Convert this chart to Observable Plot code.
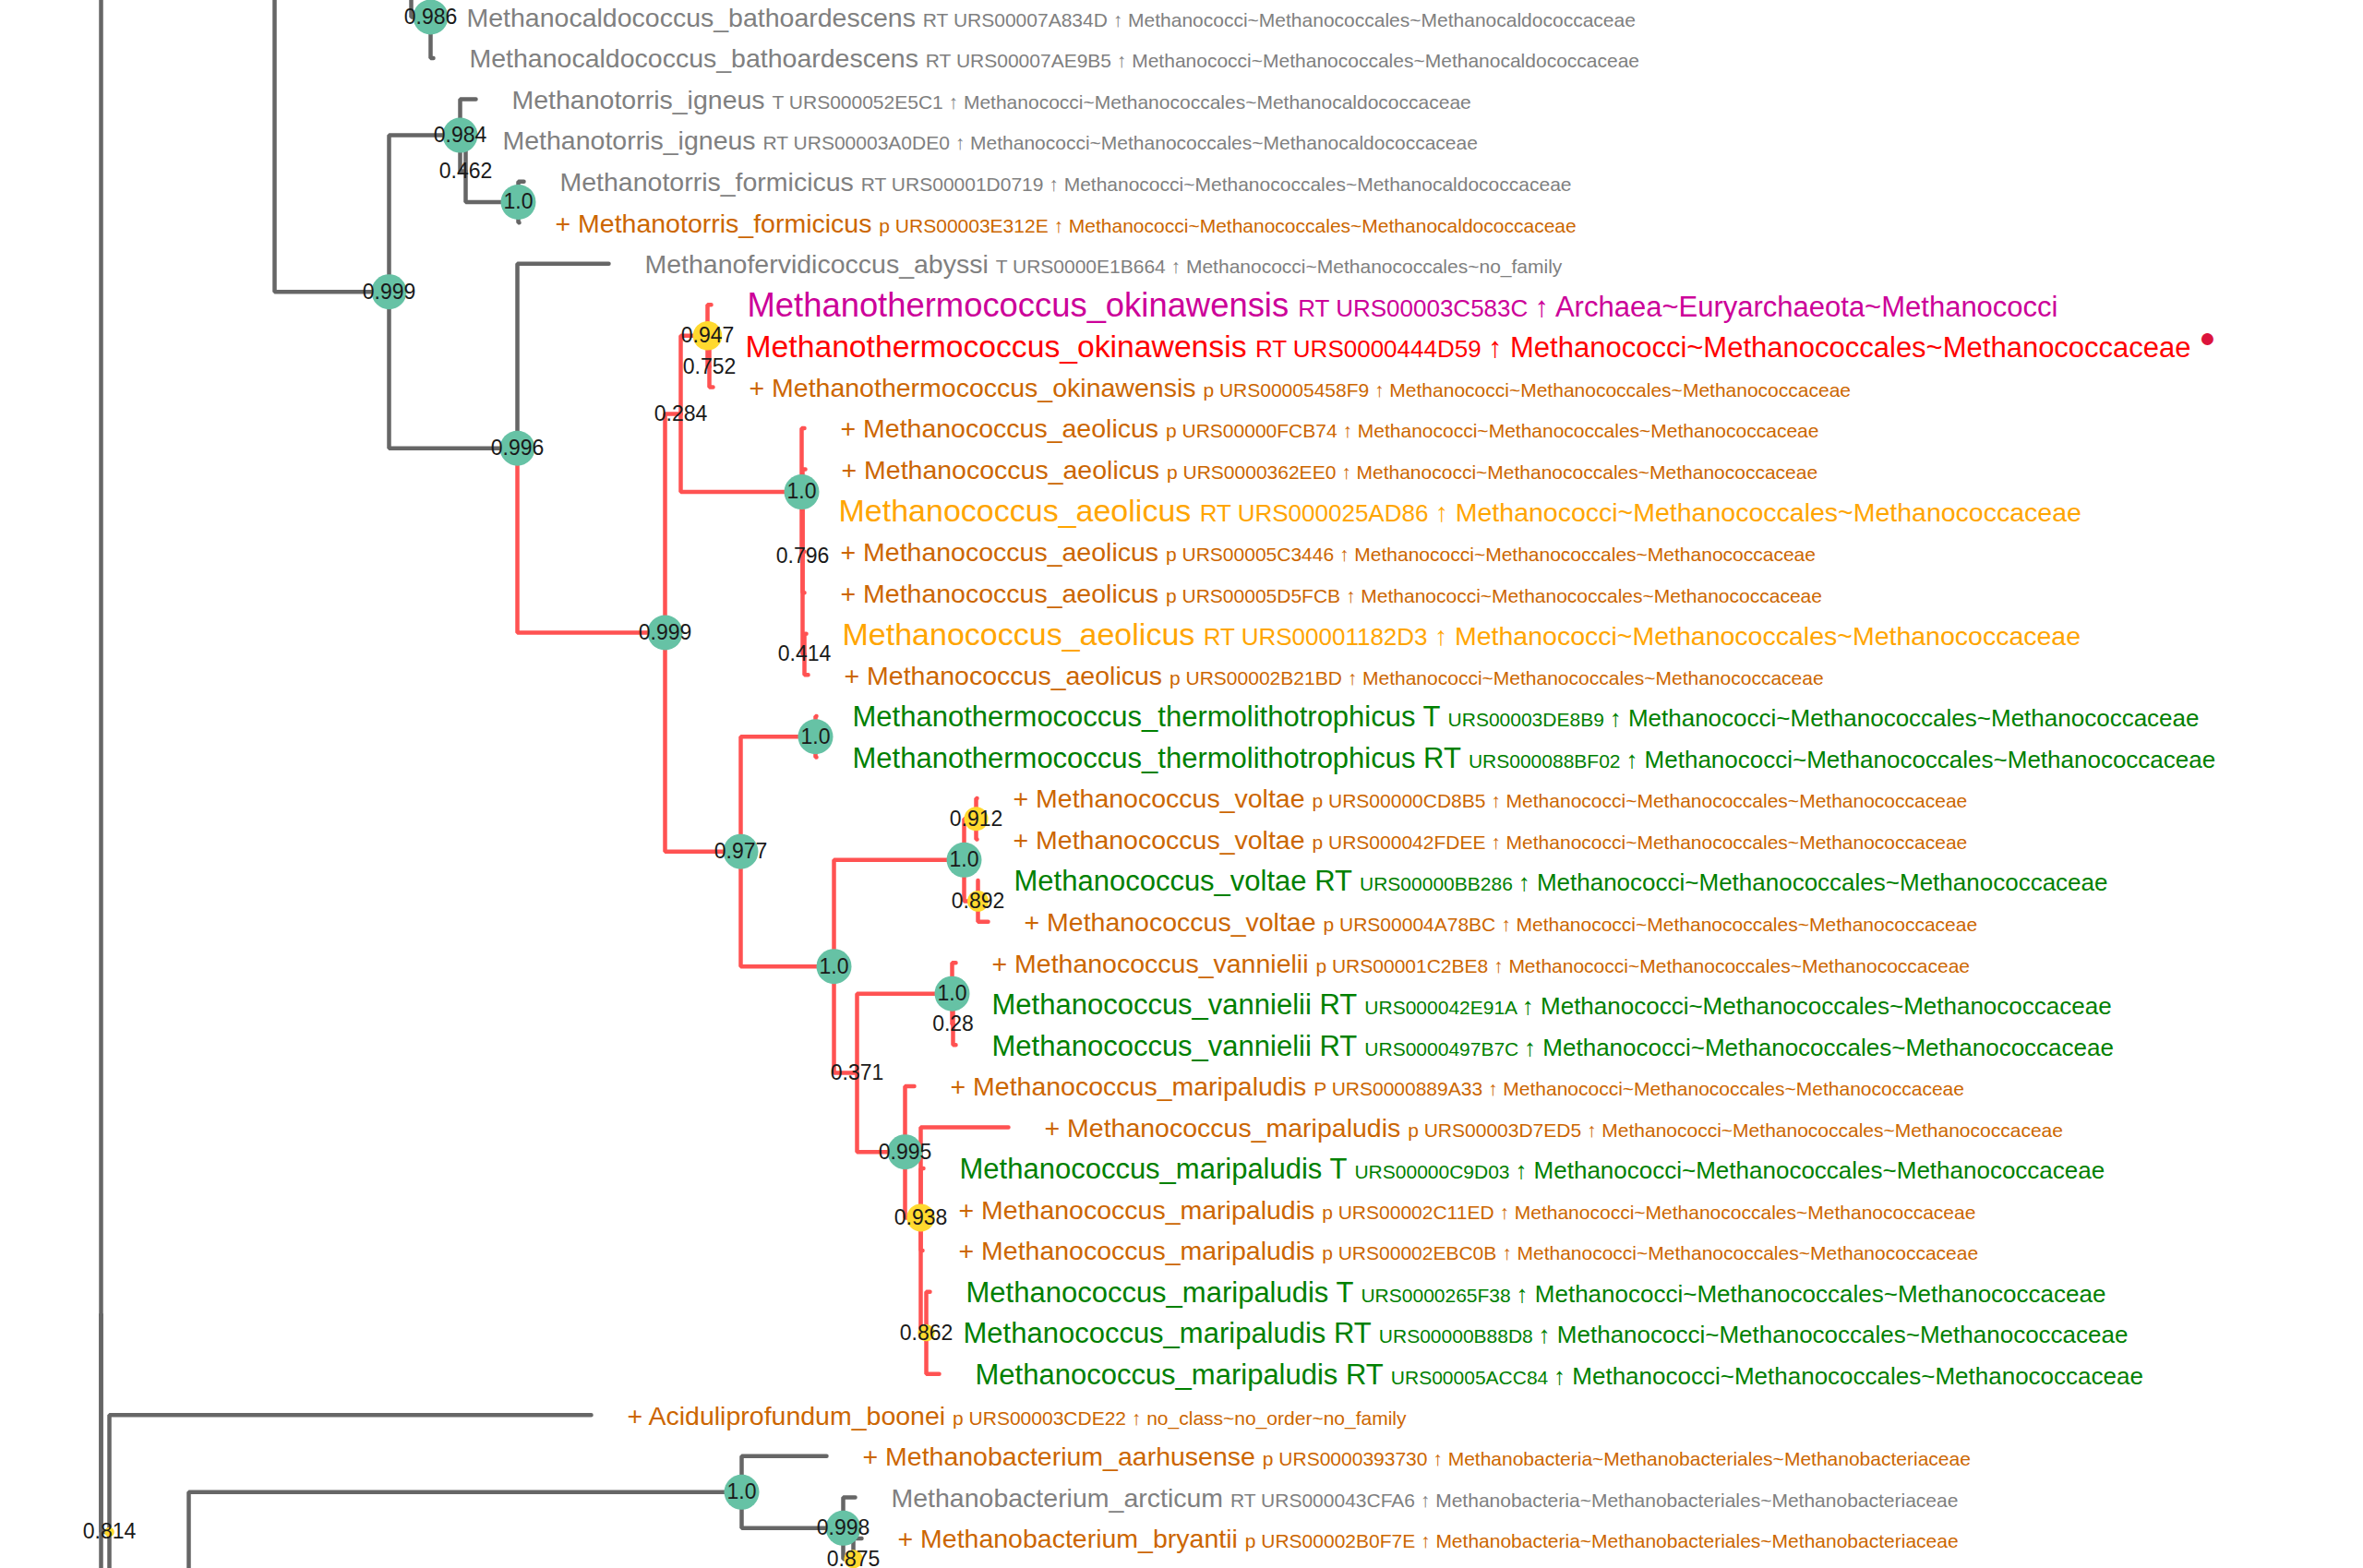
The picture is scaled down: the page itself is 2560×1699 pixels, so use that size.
<!DOCTYPE html>
<html>
<head>
<meta charset="utf-8">
<script src="https://cdn.jsdelivr.net/npm/d3@7"></script>
<script src="https://cdn.jsdelivr.net/npm/@observablehq/plot@0.6"></script>
<style>
  html, body { margin: 0; padding: 0; background: #fff; }
  svg { display: block; }
</style>
</head>
<body>
<div id="chart"></div>
<script>
// ---------------- DATA ----------------
// Internal nodes: id, parent, cumulative depth from root, support (null = not shown)
const nodeIds      = ["root","P","Q","Y","N986","A","N984","N462","N10a","N996","B","N284","N947","N752","N10b","N796","N414","N977","N10c","N10d","N10e","N912","N892","N371","N10f","N28","N995","N938","N862","N814","NB2","N10g","N998","N875"];
const nodeParents  = [null,"root","P","Q","Y","P","A","N984","N462","A","N996","B","N284","N947","N284","N10b","N796","B","N977","N977","N10d","N10e","N10e","N10d","N371","N10f","N371","N995","N938","root","N814","NB2","N10g","N998"];
const nodeDepths   = [0,0.188,0.271,0.336,0.357,0.312,0.389,0.395,0.452,0.451,0.611,0.628,0.657,0.659,0.759,0.760,0.762,0.693,0.774,0.794,0.935,0.948,0.950,0.819,0.922,0.923,0.871,0.888,0.894,0.009,0.095,0.694,0.804,0.815];
const nodeSupports = [null,null,null,null,0.986,0.999,0.984,0.462,1.0,0.996,0.999,0.284,0.947,0.752,1.0,0.796,0.414,0.977,1.0,1.0,1.0,0.912,0.892,0.371,1.0,0.28,0.995,0.938,0.862,0.814,null,1.0,0.998,0.875];

// Highlighted clade (branches drawn in red)
const highlightClade = "B";

// Leaves (visible rows 0..37)
const leafRows    = [0,1,2,3,4,5,6,7,8,9,10,11,12,13,14,15,16,17,18,19,20,21,22,23,24,25,26,27,28,29,30,31,32,33,34,35,36,37];
const leafParents = ["N986","N986","N984","N462","N10a","N10a","N996","N947","N752","N752","N10b","N796","N796","N796","N796","N414","N414","N10c","N10c","N912","N912","N892","N892","N10f","N28","N28","N995","N938","N938","N938","N938","N862","N862","N862","N814","N10g","N998","N875"];
const leafDepths  = [0.357,0.360,0.406,0.396,0.458,0.453,0.550,0.661,0.659,0.663,0.762,0.763,0.760,0.762,0.762,0.764,0.766,0.775,0.775,0.949,0.949,0.950,0.961,0.926,0.926,0.926,0.881,0.983,0.891,0.890,0.890,0.898,0.895,0.908,0.531,0.786,0.817,0.824];
const leafNames = [
  "Methanocaldococcus_bathoardescens","Methanocaldococcus_bathoardescens",
  "Methanotorris_igneus","Methanotorris_igneus",
  "Methanotorris_formicicus","Methanotorris_formicicus",
  "Methanofervidicoccus_abyssi",
  "Methanothermococcus_okinawensis","Methanothermococcus_okinawensis","Methanothermococcus_okinawensis",
  "Methanococcus_aeolicus","Methanococcus_aeolicus","Methanococcus_aeolicus","Methanococcus_aeolicus","Methanococcus_aeolicus","Methanococcus_aeolicus","Methanococcus_aeolicus",
  "Methanothermococcus_thermolithotrophicus","Methanothermococcus_thermolithotrophicus",
  "Methanococcus_voltae","Methanococcus_voltae","Methanococcus_voltae","Methanococcus_voltae",
  "Methanococcus_vannielii","Methanococcus_vannielii","Methanococcus_vannielii",
  "Methanococcus_maripaludis","Methanococcus_maripaludis","Methanococcus_maripaludis","Methanococcus_maripaludis","Methanococcus_maripaludis","Methanococcus_maripaludis","Methanococcus_maripaludis","Methanococcus_maripaludis",
  "Aciduliprofundum_boonei",
  "Methanobacterium_aarhusense","Methanobacterium_arcticum","Methanobacterium_bryantii"
];
const leafRanks = ["RT","RT","T","RT","RT","p","T","RT","RT","p","p","p","RT","p","p","RT","p","T","RT","p","p","RT","p","p","RT","RT","P","p","T","p","p","T","RT","RT","p","p","RT","p"];
const leafUrs = [
  "URS00007A834D","URS00007AE9B5","URS000052E5C1","URS00003A0DE0","URS00001D0719","URS00003E312E","URS0000E1B664",
  "URS00003C583C","URS0000444D59","URS00005458F9",
  "URS00000FCB74","URS0000362EE0","URS000025AD86","URS00005C3446","URS00005D5FCB","URS00001182D3","URS00002B21BD",
  "URS00003DE8B9","URS000088BF02",
  "URS00000CD8B5","URS000042FDEE","URS00000BB286","URS00004A78BC",
  "URS00001C2BE8","URS000042E91A","URS0000497B7C",
  "URS0000889A33","URS00003D7ED5","URS00000C9D03","URS00002C11ED","URS00002EBC0B","URS0000265F38","URS00000B88D8","URS00005ACC84",
  "URS00003CDE22","URS0000393730","URS000043CFA6","URS00002B0F7E"
];
const taxCaldo = "Methanococci~Methanococcales~Methanocaldococcaceae";
const taxCocc  = "Methanococci~Methanococcales~Methanococcaceae";
const taxBact  = "Methanobacteria~Methanobacteriales~Methanobacteriaceae";
const leafTaxa = [
  taxCaldo,taxCaldo,taxCaldo,taxCaldo,taxCaldo,taxCaldo,
  "Methanococci~Methanococcales~no_family",
  "Archaea~Euryarchaeota~Methanococci",
  taxCocc,taxCocc,taxCocc,taxCocc,taxCocc,taxCocc,taxCocc,taxCocc,taxCocc,taxCocc,taxCocc,taxCocc,taxCocc,taxCocc,taxCocc,
  taxCocc,taxCocc,taxCocc,taxCocc,taxCocc,taxCocc,taxCocc,taxCocc,taxCocc,taxCocc,taxCocc,
  "no_class~no_order~no_family",
  taxBact,taxBact,taxBact
];
const leafGroups = ["ref","ref","ref","ref","ref","plus","ref","magenta","red","plus","plus","plus","amber","plus","plus","amber","plus","green","green","plus","plus","green","plus","plus","green","green","plus","plus","green","plus","plus","green","green","green","plus","plus","ref","plus"];
const flaggedRows = [8];

// Off-screen continuations of the tree (no visible labels)
const stubRows    = [-1,-4,-20,38,43.5,60];
const stubParents = ["N986","Y","Q","N875","NB2","root"];
const stubDepths  = [0.361,0.41,0.39,0.821,0.49,0.19];

// ---------------- STYLES ----------------
const styles = {
  ref:     {color: "#808080", name: 28.5, rank: 21, urs: 21, tax: 21},
  plus:    {color: "#cc6600", name: 28.5, rank: 21, urs: 21, tax: 21},
  green:   {color: "#008000", name: 31,   rank: 31, urs: 21, tax: 26},
  magenta: {color: "#cc0099", name: 36.4, rank: 26, urs: 26, tax: 31},
  red:     {color: "#ff0000", name: 33.7, rank: 26, urs: 26, tax: 31},
  amber:   {color: "#ffa500", name: 34,   rank: 26, urs: 26, tax: 28.5}
};

// ---------------- TREE LAYOUT ----------------
const nodes = new Map();
nodeIds.forEach((id, i) => nodes.set(id, {id, parent: nodeParents[i], depth: nodeDepths[i], support: nodeSupports[i], children: []}));
leafRows.forEach((r, i) => nodes.set("L" + i, {id: "L" + i, parent: leafParents[i], depth: leafDepths[i], row: r, children: [], leaf: i}));
stubRows.forEach((r, i) => nodes.set("S" + i, {id: "S" + i, parent: stubParents[i], depth: stubDepths[i], row: r, children: []}));
for (const n of nodes.values()) if (n.parent) nodes.get(n.parent).children.push(n);
function rowOf(n) {
  if (n.row !== undefined) return n.row;
  n.row = d3.mean(n.children, rowOf);
  return n.row;
}
rowOf(nodes.get("root"));
function inClade(n) {
  while (n) { if (n.id === highlightClade) return true; n = n.parent ? nodes.get(n.parent) : null; }
  return false;
}
const links = [...nodes.values()].filter(n => n.parent).map(n => {
  const p = nodes.get(n.parent);
  return {x1: p.depth, y1: p.row, x2: n.depth, y2: n.row, hi: inClade(n)};
});
const supports = nodeIds.map(id => nodes.get(id)).filter(n => n.support != null)
  .map(n => ({depth: n.depth, row: n.row, support: n.support,
              label: Number.isInteger(n.support) ? n.support.toFixed(1) : String(n.support)}));
const leafData = leafRows.map((r, i) => ({
  depth: leafDepths[i], row: r, name: leafNames[i], rank: leafRanks[i], urs: leafUrs[i], tax: leafTaxa[i],
  group: leafGroups[i], color: styles[leafGroups[i]].color, prefix: leafGroups[i] === "plus" ? "+ " : "",
  flag: flaggedRows.includes(r)
}));
leafData.forEach(d => d.full = `${d.prefix}${d.name} ${d.rank} ${d.urs} ↑ ${d.tax}`);

// ---------------- PLOT ----------------
const W = 2560, H = 1699;
const chart = Plot.plot({
  width: W, height: H,
  marginTop: 0, marginRight: 0, marginBottom: 0, marginLeft: 0,
  x: {domain: [-0.109, 2.451], range: [0, W], axis: null},
  y: {domain: [-0.404, 37.73], range: [0, H], axis: null},
  r: {type: "linear", domain: [0.81, 0.95], range: [5, 16], clamp: true},
  color: {type: "identity"},
  style: {background: "#ffffff", fontFamily: "'Liberation Sans', Arial, Helvetica, sans-serif"},
  marks: [
    Plot.link(links.filter(d => !d.hi), {x1: "x1", y1: "y1", x2: "x2", y2: "y2", curve: "step-before",
      stroke: "#666666", strokeWidth: 4.5, strokeLinecap: "round", clip: true}),
    Plot.link(links.filter(d => d.hi), {x1: "x1", y1: "y1", x2: "x2", y2: "y2", curve: "step-before",
      stroke: "#ff5252", strokeWidth: 4.5, strokeLinecap: "round", clip: true}),
    Plot.dot(supports.filter(d => d.support >= 0.95), {x: "depth", y: "row", r: 19, fill: "#66c2a5", clip: true}),
    Plot.dot(supports.filter(d => d.support >= 0.8 && d.support < 0.95), {x: "depth", y: "row", r: "support", fill: "#ffd92f", clip: true}),
    Plot.text(supports, {x: "depth", y: "row", text: "label", fontSize: 23, fill: "#1a1a1a", clip: true}),
    Plot.text(leafData, {x: "depth", y: "row", text: "full", dx: 39, textAnchor: "start", fontSize: 28.5,
      fill: "color"})
  ]
});
document.getElementById("chart").appendChild(chart);

// Split each leaf label into differently sized runs (name / rank / URS / taxonomy)
const SVGNS = "http://www.w3.org/2000/svg";
const textGroups = chart.querySelectorAll('g[aria-label="text"]');
const labelGroup = textGroups[textGroups.length - 1];
if (labelGroup) labelGroup.querySelectorAll("text").forEach((t, i) => {
  const d = leafData[i];
  if (!d) return;
  const st = styles[d.group];
  while (t.firstChild) t.removeChild(t.firstChild);
  const yAttr = t.getAttribute("y");
  if (yAttr && /em$/.test(yAttr)) t.removeAttribute("y");
  t.setAttribute("dy", (0.36 * st.name).toFixed(1));
  t.style.whiteSpace = "pre";
  const parts = [
    [d.prefix + d.name + " ", st.name],
    [d.rank + " ", st.rank],
    [d.urs + " ", st.urs],
    ["↑ " + d.tax + (d.flag ? " " : ""), st.tax]
  ];
  if (d.flag) parts.push(["●", 30, "#dc143c", -11]);
  for (const [s, size, fill, shift] of parts) {
    const ts = document.createElementNS(SVGNS, "tspan");
    ts.textContent = s;
    ts.setAttribute("font-size", size);
    if (fill) ts.setAttribute("fill", fill);
    if (shift) ts.setAttribute("dy", shift);
    t.appendChild(ts);
  }
});
</script>
</body>
</html>
